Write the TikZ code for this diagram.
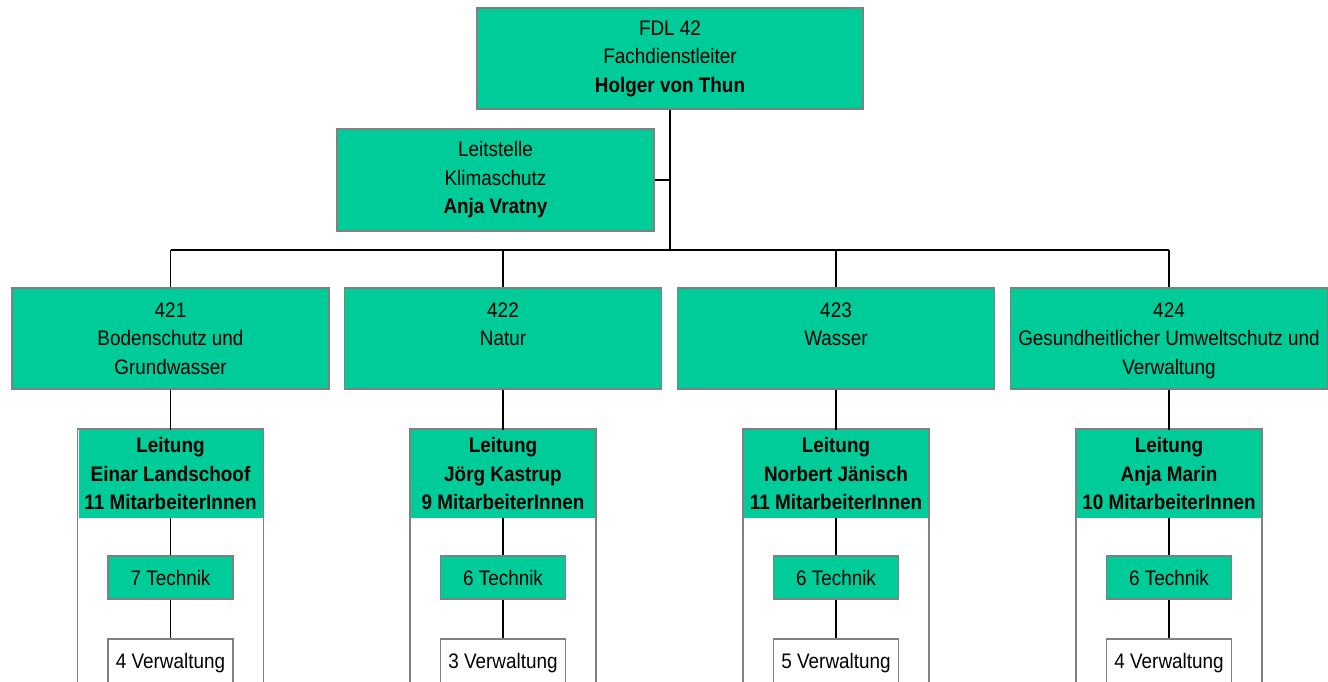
\documentclass[tikz,border=0pt]{standalone}
\usepackage{fontspec}
\setmainfont{Liberation Sans}[FakeStretch=0.9]
\definecolor{boxgreen}{RGB}{0,204,153}
\definecolor{boxgrey}{RGB}{128,128,128}
\tikzset{
  txt/.style={align=center, inner sep=0pt, font=\fontsize{21}{28.5}\selectfont},
  gbox/.style={txt, draw=boxgrey, line width=1.6pt, fill=boxgreen},
  wbox/.style={txt, draw=boxgrey, line width=1.6pt, fill=white},
  leitbox/.style={txt, fill=boxgreen, minimum width=184pt, minimum height=88pt, font=\fontsize{21}{28.5}\selectfont\bfseries},
  frame/.style={draw=boxgrey, line width=1.4pt},
  conn/.style={draw=black, line width=1.4pt},
}
\begin{document}
\begin{tikzpicture}[x=1pt, y=-1pt]
\useasboundingbox (0,0) rectangle (1328,682);
% top
\node[gbox, minimum width=386pt, minimum height=101pt] (top) at (670,58.5) {FDL 42\\Fachdienstleiter\\\textbf{Holger von Thun}};
\node[gbox, minimum width=317pt, minimum height=102pt] (lst) at (495.5,180) {Leitstelle\\Klimaschutz\\\textbf{Anja Vratny}};
\coordinate (busL) at (170.5,250);
\coordinate (busR) at (1169,250);
\draw[conn] (top.south) -- (top.south |- busL);
\draw[conn] (lst.east) -- (lst.east -| top.south);
\draw[conn] (busL) -- (busR);
% columns
\foreach \i/\cx/\title/\leit/\tech/\verw in {
  1/170.5/{421\\Bodenschutz und\\Grundwasser}/{Leitung\\Einar Landschoof\\11 MitarbeiterInnen}/7 Technik/4 Verwaltung,
  2/503/{422\\Natur\\\vphantom{G}}/{Leitung\\Jörg Kastrup\\9 MitarbeiterInnen}/6 Technik/3 Verwaltung,
  3/836/{423\\Wasser\\\vphantom{G}}/{Leitung\\Norbert Jänisch\\11 MitarbeiterInnen}/6 Technik/5 Verwaltung,
  4/1169/{424\\Gesundheitlicher Umweltschutz und\\Verwaltung}/{Leitung\\Anja Marin\\10 MitarbeiterInnen}/6 Technik/4 Verwaltung}
{
  \node[gbox, text depth=0pt, minimum width=317pt, minimum height=101pt] (c\i) at (\cx,338.5) {\title};
  \node[leitbox] (l\i) at (\cx,473.8) {\leit};
  \draw[frame] (\cx-93,695) -- (\cx-93,429) -- (\cx+93,429) -- (\cx+93,695);
  \node[gbox, minimum width=125pt, minimum height=43pt] (t\i) at (\cx,577.5) {\tech};
  \node[wbox, minimum width=125pt, minimum height=48pt] (v\i) at (\cx,663) {\verw};
  \draw[conn] (c\i.north |- busL) -- (c\i.north);
  \draw[conn] (c\i.south) -- (l\i.north);
  \draw[conn] (l\i.south) -- (t\i.north);
  \draw[conn] (t\i.south) -- (v\i.north);
}
\end{tikzpicture}
\end{document}
